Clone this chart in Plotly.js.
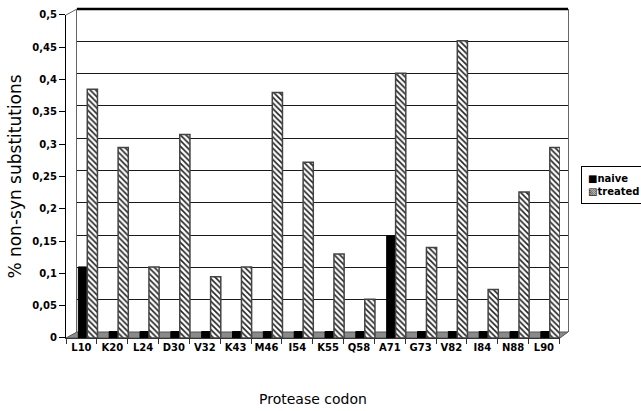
<!DOCTYPE html>
<html>
<head>
<meta charset="utf-8">
<script src="https://cdn.plot.ly/plotly-3.0.1.min.js"></script>
<style>html,body{margin:0;padding:0;background:#fff;}#chart{width:641px;height:411px;}</style>
</head>
<body>
<div id="chart"></div>
<script>
var codons = ["L10","K20","L24","D30","V32","K43","M46","I54","K55","Q58","A71","G73","V82","I84","N88","L90"];
var naive = [0.11,0.01,0.01,0.01,0.01,0.01,0.01,0.01,0.01,0.01,0.158,0.01,0.01,0.01,0.01,0.01];
var treated = [0.385,0.295,0.11,0.315,0.095,0.11,0.38,0.272,0.13,0.06,0.41,0.14,0.46,0.075,0.226,0.295];
var yTicks = [0,0.05,0.1,0.15,0.2,0.25,0.3,0.35,0.4,0.45,0.5];
var yTickText = ["0","0,05","0,1","0,15","0,2","0,25","0,3","0,35","0,4","0,45","0,5"];

var FONT = "DejaVu Sans, Verdana, sans-serif";

var traces = [
  // empty trace to create the back-wall subplot (gridlines)
  {type: "scatter", x: [], y: [], xaxis: "x", yaxis: "y", hoverinfo: "skip", showlegend: false},
  {
    type: "bar", name: "naive", x: codons, y: naive, xaxis: "x2", yaxis: "y2",
    offset: -0.1, width: 0.27,
    marker: {color: "#000000", line: {color: "#000000", width: 1}},
    hoverinfo: "x+y"
  },
  {
    type: "bar", name: "treated", x: codons, y: treated, xaxis: "x2", yaxis: "y2",
    offset: 0.19, width: 0.33,
    marker: {
      color: "#ffffff",
      line: {color: "#444444", width: 1.5},
      pattern: {shape: "\\", fgcolor: "#222222", bgcolor: "#ffffff", size: 4, solidity: 0.4}
    },
    hoverinfo: "x+y"
  }
];

var layout = {
  width: 641, height: 411,
  margin: {l: 66, r: 73, t: 9, b: 73},
  paper_bgcolor: "#ffffff",
  plot_bgcolor: "rgba(0,0,0,0)",
  showlegend: false,
  separators: ", ",
  font: {family: FONT, color: "#000000"},
  // back wall (gridlines), shifted for the 3D look
  xaxis: {
    domain: [0.0219, 1], range: [0, 1], showgrid: false, zeroline: false,
    showticklabels: false, ticks: "", showline: false, anchor: "y", fixedrange: true
  },
  yaxis: {
    domain: [0.0182, 1], range: [0, 0.5], tickvals: yTicks, showticklabels: false,
    showgrid: true, gridcolor: "#1a1a1a", gridwidth: 1, zeroline: false,
    showline: true, mirror: true, linecolor: "#666666", linewidth: 1,
    ticks: "", anchor: "x", fixedrange: true
  },
  // front axes with bars
  xaxis2: {
    domain: [0, 0.984], type: "category", anchor: "y2",
    showline: true, linecolor: "#333333", linewidth: 1,
    ticks: "outside", tickson: "boundaries", ticklen: 5, tickcolor: "#333333",
    tickangle: 0,
    tickfont: {family: FONT, size: 10, weight: "bold", color: "#000"},
    showgrid: false, zeroline: false,
    title: {text: "Protease codon", font: {family: FONT, size: 14, color: "#000"}, standoff: 42},
    automargin: false
  },
  yaxis2: {
    domain: [0, 0.9818], range: [0, 0.5], anchor: "x2",
    tickvals: yTicks, ticktext: yTickText,
    showline: true, linecolor: "#000000", linewidth: 1,
    ticks: "outside", ticklen: 6, tickcolor: "#000",
    tickfont: {family: FONT, size: 10, weight: "bold", color: "#000"},
    showgrid: false, zeroline: false,
    title: {text: "% non-syn substitutions", font: {family: FONT, size: 17, color: "#000"}, standoff: 6},
    automargin: false
  },
  shapes: [
    {type: "path", xref: "paper", yref: "paper", layer: "below",
     path: "M 0,0 L 0.984,0 L 1,0.0182 L 0.0219,0.0182 Z",
     fillcolor: "#8a8a8a", line: {color: "#555555", width: 1}},
    {type: "line", xref: "paper", yref: "paper", x0: 0.0219, x1: 1, y0: 1, y1: 1,
     line: {color: "#000000", width: 2.5}},
    {type: "line", xref: "paper", yref: "paper", x0: 0, x1: 0.0219, y0: 0.9818, y1: 1,
     line: {color: "#666666", width: 1}}
  ],
  annotations: [
    {xref: "paper", yref: "paper", x: 1.026, y: 0.522, xanchor: "left", yanchor: "top",
     showarrow: false, align: "left",
     text: "■naive<br>▧treated",
     font: {family: FONT, size: 10, weight: "bold", color: "#000"},
     bordercolor: "#000000", borderwidth: 1, borderpad: 6, bgcolor: "#ffffff"}
  ]
};

Plotly.newPlot("chart", traces, layout, {displayModeBar: false, staticPlot: true});
</script>
</body>
</html>
